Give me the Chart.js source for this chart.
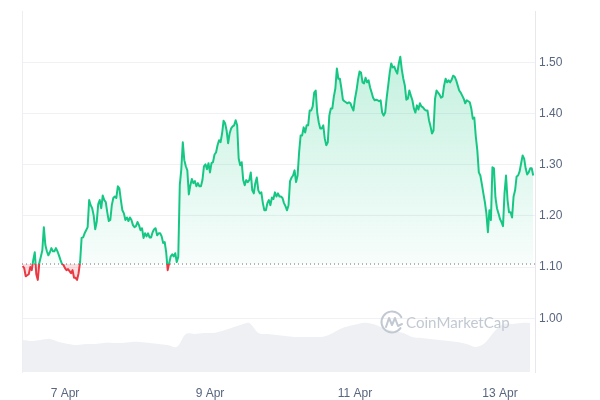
<!DOCTYPE html>
<html>
<head>
<meta charset="utf-8">
<script src="https://cdn.jsdelivr.net/npm/chart.js@4/dist/chart.umd.min.js"></script>
<style>
  html, body { margin: 0; padding: 0; background: #fff; }
  #wrap { width: 600px; height: 400px; }
</style>
</head>
<body>
<div id="wrap"><canvas id="priceChart" width="600" height="400"></canvas></div>
<script>
// Tijdas: dagen in april, koers per half uur vanaf 6 Apr 10:00
const firstDay = 6;
const firstHour = 10;
const stepHours = 0.5;
const axisStart = 6.407;
const axisEnd = 13.483;
const tickDays = [7, 9, 11, 13];
const tickLabels = ['7 Apr', '9 Apr', '11 Apr', '13 Apr'];
const priceTicks = [1.00, 1.10, 1.20, 1.30, 1.40, 1.50];
const openPrice = 1.106;

// koers per half uur (10 uur per regel)
const prices = [
  1.102, 1.098, 1.082, 1.084, 1.086, 1.100, 1.094, 1.114, 1.129, 1.086, 1.075, 1.108, 1.120, 1.133, 1.178, 1.143, 1.131, 1.123, 1.129, 1.137,
  1.131, 1.131, 1.137, 1.131, 1.123, 1.114, 1.106, 1.104, 1.098, 1.094, 1.096, 1.092, 1.088, 1.094, 1.079, 1.079, 1.075, 1.088, 1.110, 1.157,
  1.158, 1.166, 1.172, 1.178, 1.231, 1.221, 1.215, 1.201, 1.174, 1.188, 1.223, 1.231, 1.215, 1.240, 1.231, 1.227, 1.207, 1.190, 1.192, 1.221,
  1.235, 1.238, 1.235, 1.258, 1.254, 1.231, 1.211, 1.205, 1.192, 1.197, 1.190, 1.197, 1.192, 1.182, 1.178, 1.180, 1.188, 1.182, 1.172, 1.176,
  1.157, 1.166, 1.160, 1.166, 1.158, 1.158, 1.168, 1.174, 1.176, 1.162, 1.166, 1.166, 1.160, 1.147, 1.149, 1.129, 1.094, 1.108, 1.121, 1.125,
  1.121, 1.127, 1.110, 1.120, 1.260, 1.291, 1.344, 1.309, 1.297, 1.289, 1.242, 1.260, 1.272, 1.264, 1.268, 1.258, 1.264, 1.258, 1.258, 1.270,
  1.297, 1.301, 1.291, 1.303, 1.285, 1.303, 1.305, 1.320, 1.324, 1.338, 1.348, 1.344, 1.361, 1.386, 1.381, 1.367, 1.342, 1.361, 1.371, 1.375,
  1.377, 1.387, 1.377, 1.312, 1.299, 1.305, 1.270, 1.260, 1.270, 1.266, 1.270, 1.285, 1.250, 1.244, 1.264, 1.275, 1.250, 1.244, 1.246, 1.225,
  1.211, 1.211, 1.225, 1.231, 1.221, 1.236, 1.233, 1.246, 1.238, 1.244, 1.238, 1.238, 1.235, 1.225, 1.219, 1.211, 1.221, 1.268, 1.275, 1.279,
  1.289, 1.266, 1.279, 1.324, 1.357, 1.357, 1.373, 1.363, 1.377, 1.377, 1.406, 1.406, 1.414, 1.441, 1.445, 1.402, 1.383, 1.371, 1.371, 1.377,
  1.351, 1.338, 1.344, 1.396, 1.410, 1.410, 1.433, 1.449, 1.488, 1.468, 1.468, 1.449, 1.427, 1.424, 1.422, 1.420, 1.422, 1.420, 1.412, 1.406,
  1.429, 1.445, 1.466, 1.482, 1.480, 1.461, 1.459, 1.470, 1.461, 1.465, 1.451, 1.441, 1.431, 1.426, 1.427, 1.426, 1.424, 1.426, 1.402, 1.396,
  1.402, 1.431, 1.455, 1.480, 1.498, 1.490, 1.492, 1.484, 1.478, 1.498, 1.511, 1.486, 1.468, 1.455, 1.427, 1.429, 1.445, 1.435, 1.426, 1.410,
  1.402, 1.416, 1.408, 1.420, 1.414, 1.412, 1.408, 1.406, 1.406, 1.387, 1.375, 1.361, 1.367, 1.429, 1.445, 1.441, 1.437, 1.431, 1.433, 1.455,
  1.468, 1.461, 1.465, 1.461, 1.466, 1.474, 1.472, 1.465, 1.455, 1.445, 1.441, 1.435, 1.429, 1.420, 1.426, 1.424, 1.422, 1.410, 1.390, 1.392,
  1.355, 1.328, 1.285, 1.279, 1.262, 1.244, 1.227, 1.205, 1.168, 1.211, 1.192, 1.295, 1.293, 1.236, 1.215, 1.205, 1.194, 1.188, 1.180, 1.244,
  1.279, 1.231, 1.207, 1.207, 1.197, 1.238, 1.250, 1.277, 1.279, 1.287, 1.303, 1.318, 1.312, 1.293, 1.281, 1.285, 1.293, 1.293,
  1.279
];

// volume (24u, miljoen) per 3 uur
const volumeStepHours = 3;
const volumes = [
  16, 15.5, 16, 16.5, 15, 14, 13.5, 14, 14, 14.5,
  14.5, 14.5, 15, 15, 14.5, 14, 13.5, 12.5, 19, 19,
  19.5, 19.5, 20.5, 22, 23.5, 24.5, 19.5, 19, 18.5, 18,
  17.5, 17.5, 17.5, 17.5, 19, 21.5, 23, 24, 24.5, 23.5,
  21.5, 20.5, 19.5, 17.5, 17, 16.5, 16, 15.5, 15, 14,
  12.5, 14.5, 20, 24, 24, 24.5, 24.5
];
const volumeMax = 180;

const green = '#16c784';
const red = '#ea3943';

function dayOf(hoursFromStart) {
  return firstDay + (firstHour + hoursFromStart) / 24;
}

const pricePoints = prices.map((p, i) => ({ x: dayOf(i * stepHours), y: p }));
const volumePoints = volumes.map((v, i) => ({ x: dayOf(i * volumeStepHours), y: v }));

// watermerk rechtsonder
const watermark = {
  id: 'watermark',
  afterDatasetsDraw(chart) {
    const { ctx, chartArea } = chart;
    const cx = chartArea.right - 143;
    const cy = chartArea.bottom - 50;
    ctx.save();
    ctx.strokeStyle = '#c3c9d2';
    ctx.fillStyle = '#c3c9d2';
    ctx.lineWidth = 2;
    ctx.lineCap = 'round';
    ctx.lineJoin = 'round';
    ctx.beginPath();
    ctx.arc(cx, cy, 10.5, 0.2 * Math.PI, 1.85 * Math.PI);
    ctx.stroke();
    ctx.beginPath();
    ctx.moveTo(cx - 6, cy + 5);
    ctx.lineTo(cx - 3, cy - 4);
    ctx.lineTo(cx, cy + 3);
    ctx.lineTo(cx + 3, cy - 4);
    ctx.lineTo(cx + 6, cy + 4);
    ctx.lineTo(cx + 10, cy + 2);
    ctx.stroke();
    ctx.font = '16px Lato, "Noto Sans", sans-serif';
    const w = ctx.measureText('CoinMarketCap').width;
    const size = 16 * 104 / w;
    ctx.font = size.toFixed(1) + 'px Lato, "Noto Sans", sans-serif';
    ctx.textBaseline = 'middle';
    ctx.fillText('CoinMarketCap', cx + 14, cy + 1);
    ctx.restore();
  }
};

const chart = new Chart(document.getElementById('priceChart'), {
  type: 'line',
  data: {
    datasets: [
      {
        label: 'Prijs',
        data: pricePoints,
        yAxisID: 'y',
        borderColor: green,
        borderWidth: 2,
        pointRadius: 0,
        tension: 0,
        borderJoinStyle: 'round',
        fill: { target: { value: openPrice }, above: 'rgba(22,199,132,0.15)', below: 'rgba(234,57,67,0.15)' },
        order: 1
      },
      {
        label: 'Open',
        data: [{ x: axisStart, y: openPrice }, { x: axisEnd, y: openPrice }],
        yAxisID: 'y',
        borderColor: '#6f6f6f',
        borderWidth: 1,
        borderDash: [1, 3],
        pointRadius: 0,
        fill: false,
        order: 0
      },
      {
        label: 'Volume',
        data: volumePoints,
        yAxisID: 'yVol',
        borderWidth: 0,
        borderColor: 'rgba(0,0,0,0)',
        backgroundColor: '#eef0f4',
        pointRadius: 0,
        tension: 0.3,
        fill: 'origin',
        order: 3
      }
    ]
  },
  options: {
    animation: false,
    responsive: false,
    layout: { padding: { left: 22, right: 30, top: 10, bottom: 0 } },
    plugins: { legend: { display: false }, tooltip: { enabled: false } },
    scales: {
      x: {
        type: 'linear',
        min: axisStart,
        max: axisEnd,
        afterBuildTicks: axis => { axis.ticks = tickDays.map(d => ({ value: d })); },
        afterFit: axis => { axis.height = 28; },
        ticks: {
          callback: v => tickLabels[tickDays.indexOf(v)],
          color: '#58667e',
          font: { family: '"Liberation Sans", Arial, sans-serif', size: 12 },
          padding: 6,
          maxRotation: 0
        },
        grid: { display: false },
        border: { display: false }
      },
      y: {
        position: 'right',
        min: 0.895,
        max: 1.60,
        afterBuildTicks: axis => { axis.ticks = priceTicks.map(v => ({ value: v })); },
        afterFit: axis => { axis.width = 35; },
        ticks: {
          callback: v => v.toFixed(2),
          color: '#58667e',
          font: { family: '"Liberation Sans", Arial, sans-serif', size: 12 },
          padding: 4
        },
        grid: { color: '#eff1f4', drawTicks: false },
        border: { display: true, color: '#e6e8ec' }
      },
      yVol: {
        position: 'left',
        min: 0,
        max: volumeMax,
        afterFit: axis => { axis.width = 0; },
        ticks: { display: false },
        grid: { display: false },
        border: { display: true, color: '#eceef1' }
      }
    }
  },
  plugins: [watermark]
});

// Kleurverloop: groen boven openingskoers, rood eronder
const area = chart.chartArea;
const basePx = chart.scales.y.getPixelForValue(openPrice);
const stop = (basePx - area.top) / (area.bottom - area.top);
const stroke = chart.ctx.createLinearGradient(0, area.top, 0, area.bottom);
stroke.addColorStop(0, green);
stroke.addColorStop(stop, green);
stroke.addColorStop(stop, red);
stroke.addColorStop(1, red);

const fillUp = chart.ctx.createLinearGradient(0, chart.scales.y.getPixelForValue(1.52), 0, basePx);
fillUp.addColorStop(0, 'rgba(22,199,132,0.26)');
fillUp.addColorStop(1, 'rgba(22,199,132,0.03)');

const ds = chart.data.datasets[0];
ds.borderColor = stroke;
ds.fill = { target: { value: openPrice }, above: fillUp, below: 'rgba(234,57,67,0.16)' };
chart.update('none');
</script>
</body>
</html>
